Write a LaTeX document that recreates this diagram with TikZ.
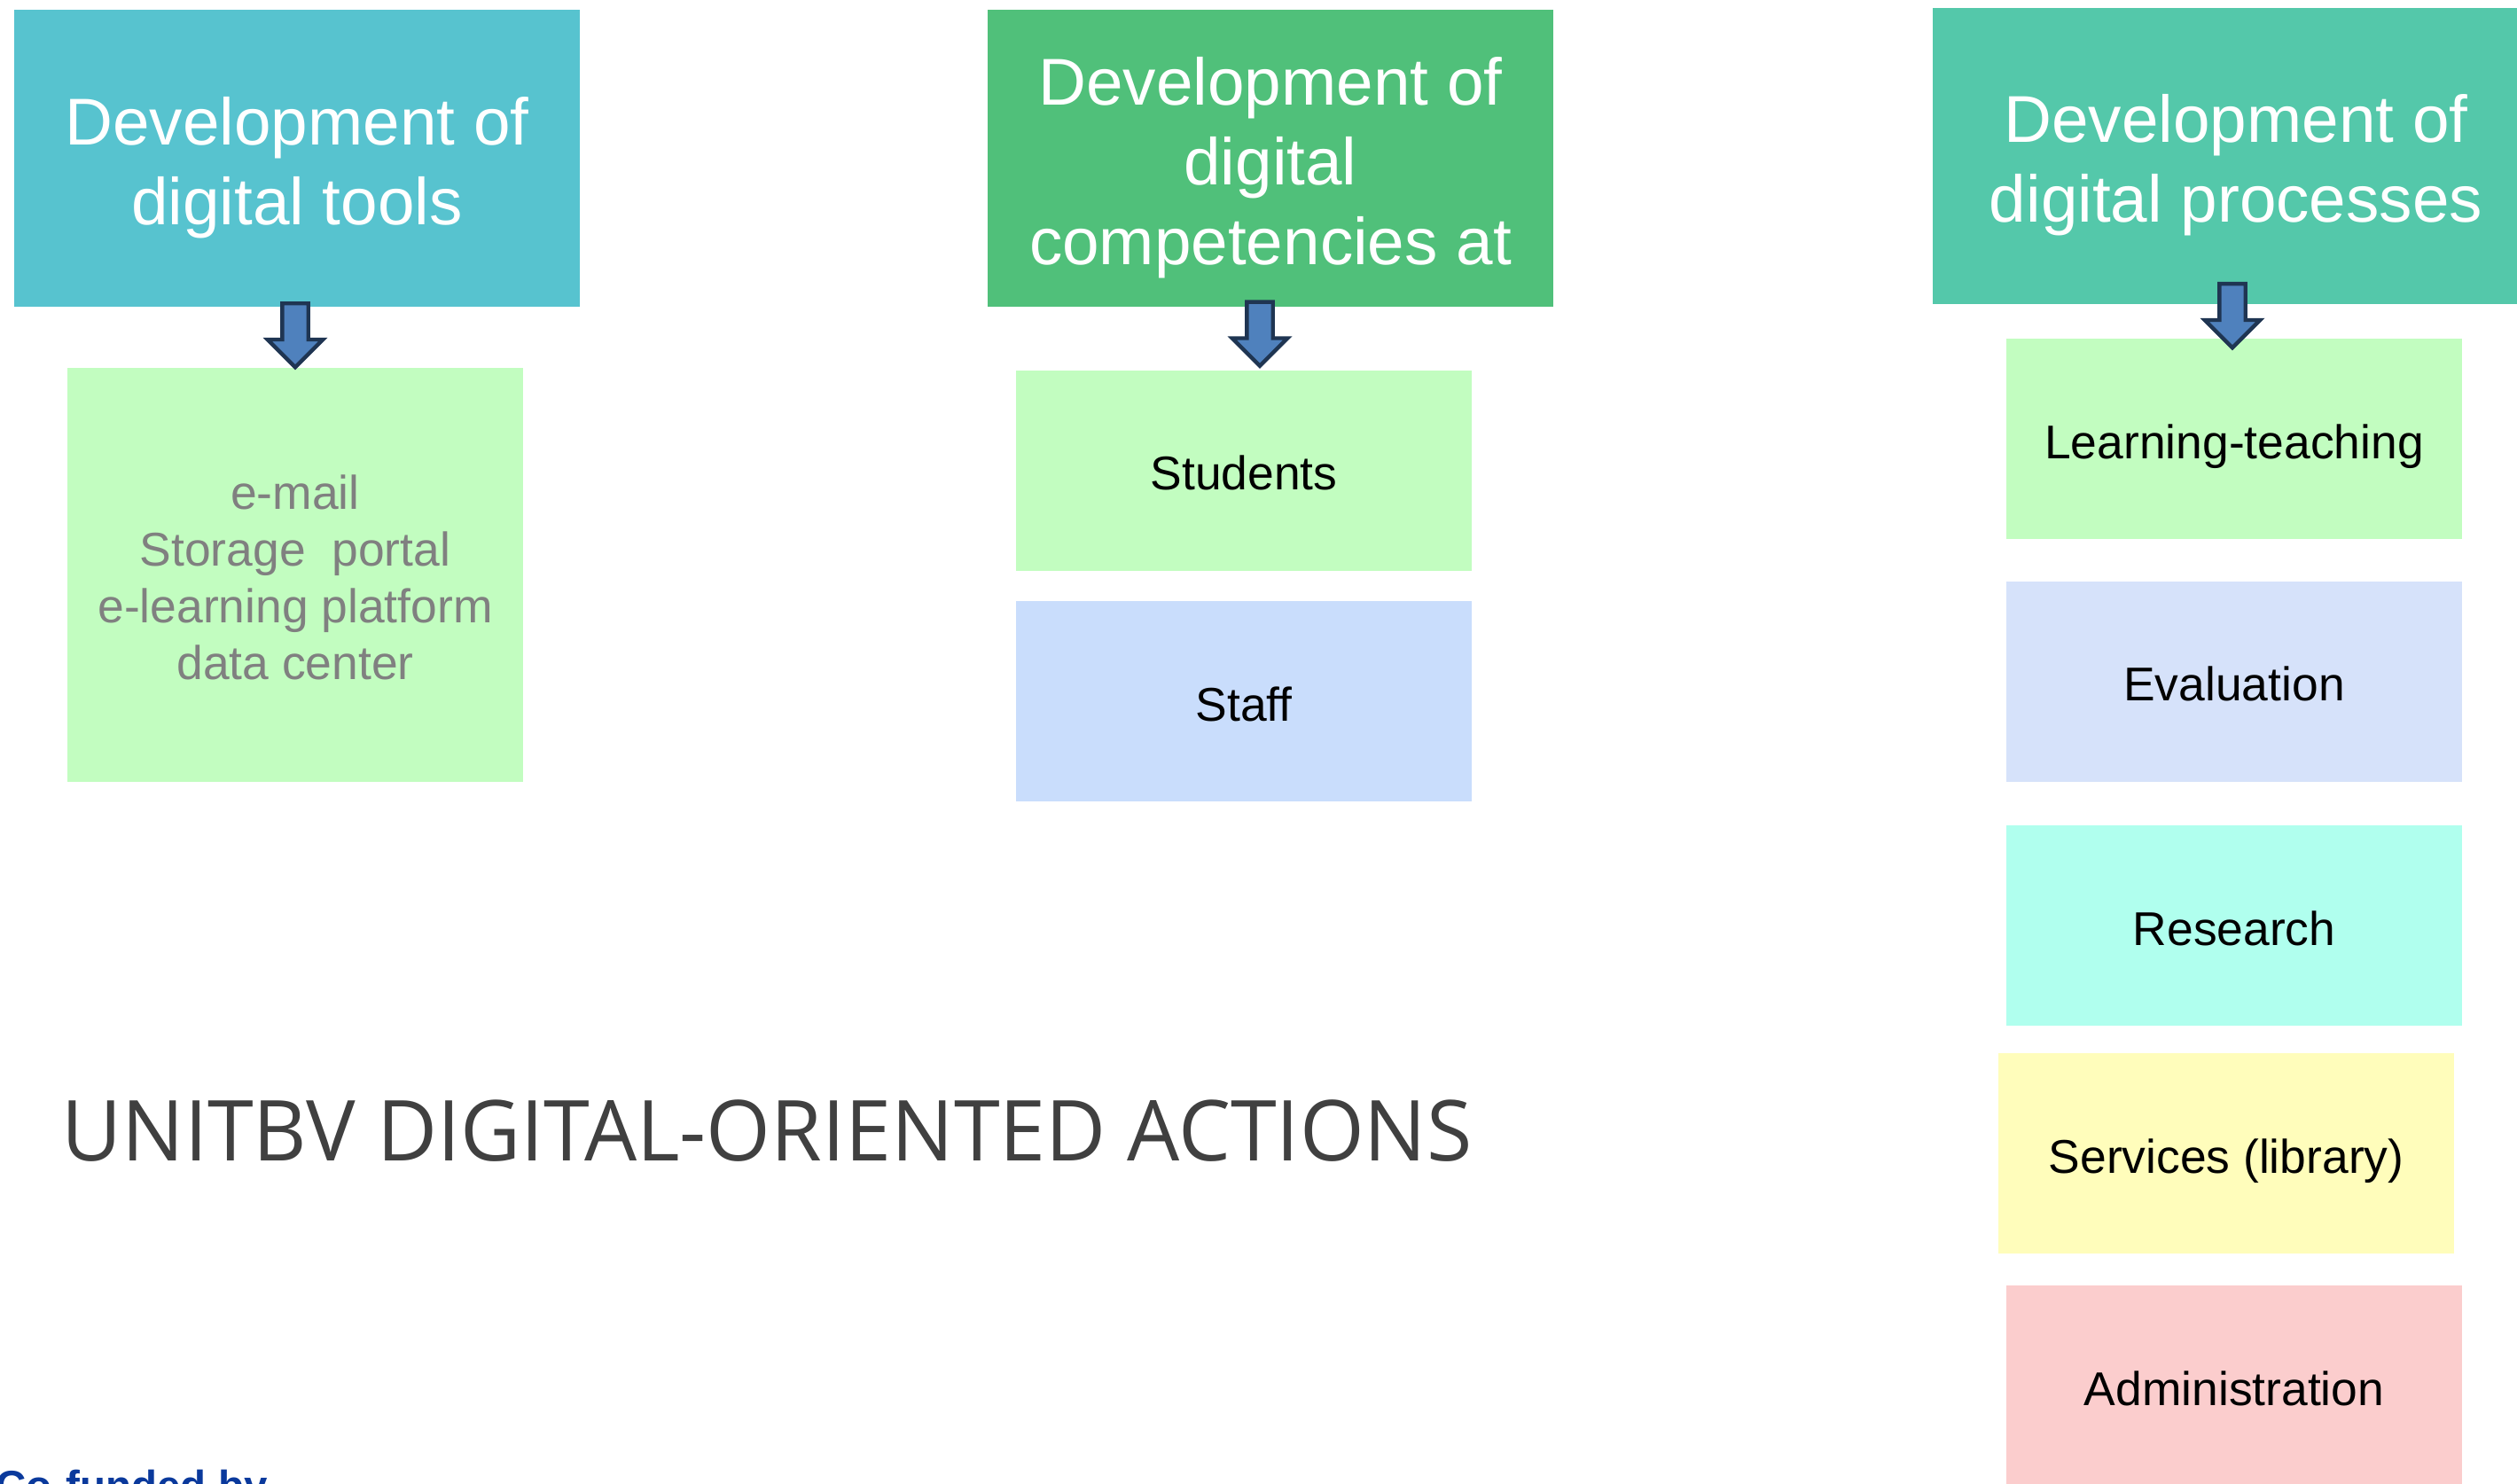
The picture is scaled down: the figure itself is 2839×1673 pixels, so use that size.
\documentclass[tikz,border=0pt]{standalone}
\usepackage{fontspec}
\setmainfont{Liberation Sans}
\newfontfamily\titlefont{Open Sans}
\usepackage{xcolor}
\usetikzlibrary{positioning,shapes.arrows}
\definecolor{toolshead}{RGB}{87,195,207}
\definecolor{comphead}{RGB}{80,192,122}
\definecolor{prochead}{RGB}{84,200,170}
\definecolor{mint}{RGB}{194,253,192}
\definecolor{staffblue}{RGB}{201,221,252}
\definecolor{evalblue}{RGB}{214,226,250}
\definecolor{aqua}{RGB}{176,255,238}
\definecolor{lemon}{RGB}{255,253,187}
\definecolor{rose}{RGB}{251,205,205}
\definecolor{arrowfill}{RGB}{79,129,189}
\definecolor{arrowline}{RGB}{31,53,82}
\definecolor{titlegrey}{RGB}{64,64,64}
\definecolor{eublue}{RGB}{10,57,156}
\newcommand{\topstrut}[1]{\rule{0pt}{#1}}
\begin{document}
\begin{tikzpicture}[
    x=0.1mm, y=-0.1mm,
    nosep/.style={inner sep=0},
    struts/.style={execute at begin node=\topstrut{#1},
        execute at end node=\rule[-0.212em]{0pt}{0pt}},
    head/.style={rectangle, nosep, minimum width=63.8mm, minimum height=33.5mm,
        text=white, align=center, font=\fontsize{21.25}{25.6}\selectfont},
    item/.style={rectangle, nosep, minimum width=51.4mm, minimum height=22.6mm,
        align=center, font=\fontsize{15.2}{18.2}\selectfont, struts=1.05em},
    down/.style={single arrow, draw=arrowline, fill=arrowfill, line width=1.25pt,
        rotate=-90, anchor=tip, inner xsep=0, inner ysep=1.25mm,
        minimum width=5.8mm, minimum height=7.2mm, single arrow head extend=1.65mm}]
\useasboundingbox (0,0) rectangle (2839,1673);

% column headers
\node[head, fill=toolshead] (hdtools) at (335,178.5) {\topstrut{1em}Development of\\digital tools};
\node[head, fill=comphead] (hdcomp) at (1433,178.5) {\topstrut{1em}Development of\\digital\\competencies at};
\node[head, fill=prochead, minimum width=68.4mm, minimum height=33.4mm] (hdproc) at (2522,176) {\topstrut{1em}Development of\\digital processes};

% boxes below
\node[item, fill=mint, text=gray, minimum height=46.7mm] (tools) at (333,648.5)
    {\topstrut{1.05em}e-mail\\Storage\ \ portal\\e-learning platform\\data center};
\node[item, fill=mint] (students) at (1403,530.5) {Students};
\node[item, fill=staffblue] (staff) at (1403,791) {Staff};

\node[item, fill=mint] (learn) at (2520,495) {Learning-teaching};
\node[item, fill=evalblue] (eval) at (2520,768.5) {Evaluation};
\node[item, fill=aqua] (research) at (2520,1044) {Research};
\node[item, fill=lemon] (services) at (2511,1301) {Services (library)};
\node[item, fill=rose] (admin) at (2520,1563) {Administration};

% arrows
\node[down] (arrtools) at ([yshift=-0.3mm]tools.north) {};
\node[down] (arrcomp) at ([xshift=1.8mm, yshift=0.1mm]students.north) {};
\node[down] (arrproc) at ([xshift=-0.2mm, yshift=-1.4mm]learn.north) {};

% title and footer
\node[nosep, anchor=base west, text=titlegrey, font=\titlefont\fontsize{27}{32}\selectfont] (title) at (69,1309)
    {\scalebox{0.985}[1]{UNITBV DIGITAL-ORIENTED ACTIONS}};
\node[nosep, anchor=base west, text=eublue, font=\bfseries\fontsize{13.5}{16}\selectfont] (cofund) at (-5,1692) {Co-funded by};

\end{tikzpicture}
\end{document}
